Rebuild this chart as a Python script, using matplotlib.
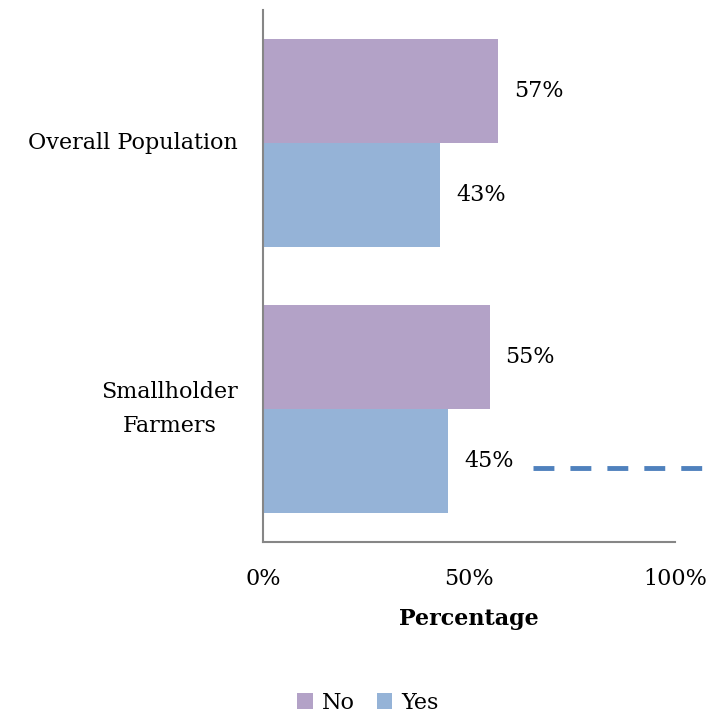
import numpy as np
import matplotlib
matplotlib.use("Agg")
import matplotlib.pyplot as plt

# Survey answers by group
groups = ["Overall Population", "Smallholder\nFarmers"]
no_share = [57, 55]
yes_share = [43, 45]
x_ticks = [0, 50, 100]

plt.rcParams['font.family'] = ['DejaVu Serif']
fs = 16

fig = plt.figure(figsize=(7.07, 7.15), dpi=100)
ax = fig.add_axes([263 / 707, 1 - 542 / 715, 412 / 707, 532 / 715])

pos = np.arange(len(groups))
h = 0.391
ax.barh(pos - h / 2, no_share, height=h, color='#B3A2C7', label='No')
ax.barh(pos + h / 2, yes_share, height=h, color='#95B3D7', label='Yes')

for p, v in zip(pos, no_share):
    ax.annotate(f"{v}%", (v, p - h / 2), xytext=(16, 0), textcoords='offset pixels',
                va='center', ha='left', fontsize=fs)
for p, v in zip(pos, yes_share):
    ax.annotate(f"{v}%", (v, p + h / 2), xytext=(16, 0), textcoords='offset pixels',
                va='center', ha='left', fontsize=fs)

ax.set_xlim(0, 100)
ax.set_ylim(1.5, -0.5)
ax.set_xticks(x_ticks)
ax.set_xticklabels([f"{t}%" for t in x_ticks], fontsize=fs)
ax.set_yticks(pos)
ax.set_yticklabels(groups, fontsize=fs, multialignment='center', linespacing=1.7)
for lbl in ax.get_yticklabels():
    lbl.set_verticalalignment('center')
ax.tick_params(axis='both', length=0)
ax.tick_params(axis='y', pad=18)
ax.tick_params(axis='x', pad=19)
ax.set_xlabel("Percentage", fontsize=fs, fontweight='bold', labelpad=13)

for side in ['top', 'right']:
    ax.spines[side].set_visible(False)
for side in ['left', 'bottom']:
    ax.spines[side].set_color('#868686')
    ax.spines[side].set_linewidth(1.5)

# dashed trend marker to the right of the lower bars
ax.plot([0.655, 1.08], [0.139, 0.139], transform=ax.transAxes, clip_on=False,
        color='#4F81BD', lw=3.5, dashes=(4.3, 3.3), solid_capstyle='butt')

fig.legend(loc='center', bbox_to_anchor=(368 / 707, 1 - 703 / 715), ncol=2, frameon=False,
           fontsize=fs, handlelength=0.7, handleheight=0.7, handletextpad=0.4, columnspacing=1.0)

fig.savefig("out.png", dpi=100)
